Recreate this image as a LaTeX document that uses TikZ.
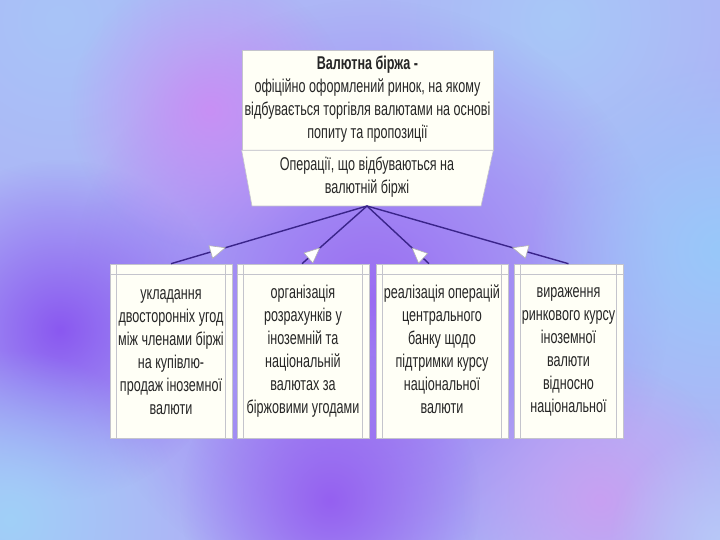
\documentclass[tikz,border=0pt]{standalone}
\usepackage{fontspec}
\setmainfont[FakeStretch=0.68]{Liberation Sans}
\usetikzlibrary{arrows.meta,decorations.markings,fadings}
\definecolor{bgbase}{HTML}{ADB6F6}
\definecolor{boxfill}{HTML}{FFFFF6}
\definecolor{boxline}{HTML}{C4C4CC}
\definecolor{conncol}{HTML}{3A248A}
\definecolor{cA}{HTML}{A8C4F8}
\definecolor{cB}{HTML}{A8C8F8}
\definecolor{cC}{HTML}{9A6CF2}
\definecolor{cD}{HTML}{8A58F0}
\definecolor{cE}{HTML}{C890F4}
\definecolor{cF}{HTML}{9560F0}
\definecolor{cG}{HTML}{A0D0F8}
\definecolor{cH}{HTML}{98C8FA}
\definecolor{cI}{HTML}{C8A0F2}
\definecolor{cJ}{HTML}{B8C8F8}
\tikzfading[name=blob, inner color=transparent!0, outer color=transparent!100]
\tikzset{
  lbl/.style={font=\fontsize{18.5}{23}\selectfont, text=black!85, align=center, inner sep=0pt},
  leaf/.style={draw=boxline, fill=boxfill, line width=0.6pt, minimum height=174pt, inner sep=0pt},
  inner/.style={draw=boxline, line width=0.5pt},
  conn/.style={draw=conncol, line width=1.4pt, postaction={decorate},
    decoration={markings, mark=at position 0.28 with {\arrow[line width=0.6pt]{Triangle[color=gray!60, fill=white, length=16pt, width=14pt]}}}},
  softblob/.style={fill=#1, path fading=blob}
}
\begin{document}
\begin{tikzpicture}[x=1pt,y=-1pt]
\useasboundingbox (0,0) rectangle (720,540);
% background
\fill[bgbase] (0,0) rectangle (720,540);
\begin{scope}
\clip (0,0) rectangle (720,540);
\fill[softblob=cA] (60,20) circle (200);
\fill[softblob=cB] (560,20) circle (180);
\fill[softblob=cC] (370,300) circle (300);
\fill[softblob=cD] (60,330) circle (170);
\fill[softblob=cE] (210,110) circle (140);
\fill[softblob=cF] (330,500) circle (150);
\fill[softblob=cG] (10,520) circle (170);
\fill[softblob=cH] (720,250) circle (190);
\fill[softblob=cI] (600,500) circle (140);
\fill[softblob=cJ] (720,540) circle (110);
\end{scope}
% top box
\node[draw=boxline, fill=boxfill, line width=0.6pt, minimum width=251pt, minimum height=100pt, inner sep=0pt] (top) at (367.5,100) {};
\node[lbl] (toptxt) at (367.5,99) {\textbf{Валютна біржа -}\\офіційно оформлений ринок, на якому\\відбувається торгівля валютами на основі\\попиту та пропозиції};
\coordinate (tl) at (top.south west);
\coordinate (tr) at (top.south east);
\coordinate (bl) at (252,206);
\coordinate (br) at (481,206);
\coordinate (src) at (367,206);
\filldraw[draw=boxline, fill=boxfill, line width=0.6pt] (tl) -- (tr) -- (br) -- (bl) -- cycle;
\node[lbl] (ops) at (367,177) {Операції, що відбуваються на\\валютній біржі};
% leaf boxes
\node[leaf, minimum width=122pt] (b1) at (171,351) {};
\node[leaf, minimum width=132pt] (b2) at (303,351) {};
\node[leaf, minimum width=132pt] (b3) at (442,351) {};
\node[leaf, minimum width=109pt] (b4) at (568.5,351) {};
\foreach \b in {b1,b2,b3,b4}{
  \draw[inner] ([xshift=7pt]\b.north west) -- ([xshift=7pt]\b.south west);
  \draw[inner] ([xshift=-7pt]\b.north east) -- ([xshift=-7pt]\b.south east);
  \draw[inner] ([yshift=-11pt]\b.north west) -- ([yshift=-11pt]\b.north east);
}
\node[lbl] (t1) at (171,352) {укладання\\двосторонніх угод\\між членами біржі\\на купівлю-\\продаж іноземної\\валюти};
\node[lbl] (t2) at (303,351) {організація\\розрахунків у\\іноземній та\\національній\\валютах за\\біржовими угодами};
\node[lbl] (t3) at (442,349) {реалізація операцій\\центрального\\банку щодо\\підтримки курсу\\національної\\валюти};
\node[lbl] (t4) at (568.5,352) {вираження\\ринкового курсу\\іноземної\\валюти\\відносно\\національної};
% connectors
\draw[conn] (b1.north) -- (src);
\draw[conn] ([xshift=-1pt]b2.north) -- (src);
\draw[conn] ([xshift=-13pt]b3.north) -- (src);
\draw[conn] (b4.north) -- (src);
\end{tikzpicture}
\end{document}
